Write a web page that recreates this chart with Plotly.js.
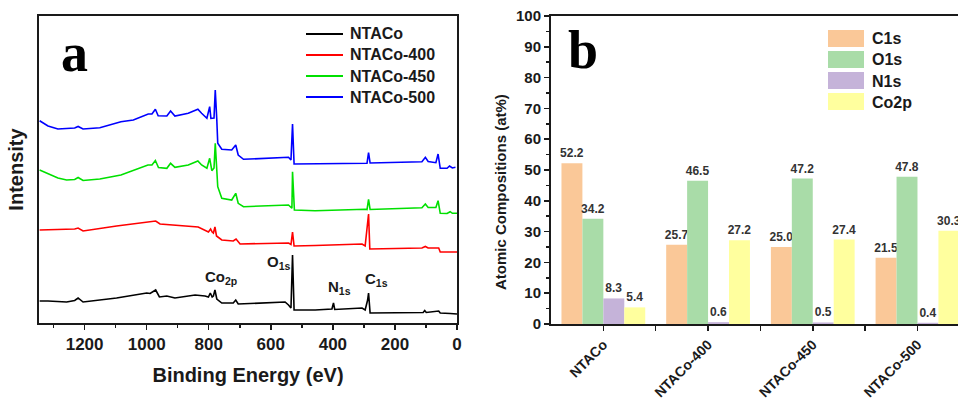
<!DOCTYPE html>
<html>
<head>
<meta charset="utf-8">
<script src="https://cdn.plot.ly/plotly-3.0.1.min.js"></script>
<style>html,body{margin:0;padding:0;background:#fff;}#chart{width:958px;height:402px;}</style>
</head>
<body>
<div id="chart"></div>
<script>
// ---------- Panel a: XPS survey spectra (binding energy in eV, intensity in arbitrary units) ----------
const energyNTACo = [1345,1318,1258,1232,1221,1212,1205,1097,1000,989,971,959,935,909,844,812,801,795,789,785,780,774,758,721,713,705,554,543,535,530,525,457,403,398,394,306,296,288,285,280,109,104,99,59,54,22,0];
const intensityNTACo = [22,22,21,22.5,25,22.5,21,25,30,29.5,33,26,27,25,28,27,26,30,26,27,33,24,20,20,23,19,21,18,15,68,13,13,14,20,13.5,15,13,23,30,10,10.5,12.5,10.5,12,10,9.5,9];

const energyNTACo400 = [1345,1258,1232,1221,1205,1097,1000,971,957,909,834,801,794,789,785,780,775,758,721,712,699,543,535,530,525,457,306,296,285,281,113,102,93,59,54,0];
const intensityNTACo400 = [93,94,94,95,92,97,101,102,99,98,96,91,94,91,90,96,87,83,82,84,79,80,78.5,91,77,77.5,79,77,109,74,75,76.5,75,75,71,71];

const energyNTACo450 = [1345,1318,1286,1258,1232,1221,1205,1151,1083,996,983,972,962,935,923,909,866,835,823,806,797,790,783,779,774,771,758,726,713,705,688,543,532,530,524,457,296,290,285,280,113,102,93,68,61,54,32,22,15,0];
const intensityNTACo450 = [153,149,145,143,143.5,145.5,142.5,144,148,158,158,162.5,155.5,154.7,159.7,155.7,158,162,158,154.7,164.7,152.3,155,179.7,151.3,136.3,124.7,123,129.7,119.7,116.3,118,114.7,151.3,113,112.3,113.7,113.5,123.7,113.5,115.3,119,115.5,115.5,122.3,109.7,109.5,111.3,109.7,109.7];

const energyNTACo500 = [1345,1318,1286,1258,1232,1221,1205,1151,1083,1043,995,983,972,963,935,923,909,866,835,823,806,797,793,783,779,774,771,758,726,713,705,688,543,535,530,525,457,296,290,285,280,113,102,93,68,61,54,32,24,15,5];
const intensityNTACo500 = [202.3,197,194,194.5,195,196.5,194,195.3,201.3,203,209,209,213.7,207.3,207,212,207,209.7,213.7,209.7,204.7,216.3,204.7,205,233,203,179.7,173.7,173,178,168,163.7,165.7,163,199,159,159,159.7,159.7,170.3,160,161.3,165.7,161.5,160.3,169,154.7,154.7,157,155,155.7];

const spectraNames = ['NTACo','NTACo-400','NTACo-450','NTACo-500'];
const spectraColors = ['#000000','#ff0000','#00e000','#0000ff'];

// peak labels (text, binding energy, intensity)
const peakLabels = ['Co<sub>2p</sub>','O<sub>1s</sub>','N<sub>1s</sub>','C<sub>1s</sub>'];
const peakLabelEnergy = [760, 575, 380, 258];
const peakLabelIntensity = [46, 61, 36, 44];

// ---------- Panel b: atomic compositions ----------
const categories = ['NTACo','NTACo-400','NTACo-450','NTACo-500'];
const c1s  = [52.2, 25.7, 25.0, 21.5];
const o1s  = [34.2, 46.5, 47.2, 47.8];
const n1s  = [8.3, 0.6, 0.5, 0.4];
const co2p = [5.4, 27.2, 27.4, 30.3];
const elementNames = ['C1s','O1s','N1s','Co2p'];
const elementColors = ['#FAC898','#A9DCA8','#C5B3D9','#FFFF9E'];

// ---------- helpers ----------
const W = 958, H = 402;
const px = x => x / W;
const py = y => 1 - y / H;
const SANS = '"Liberation Sans", Arial, sans-serif';
const SERIF = '"Liberation Serif", "Times New Roman", serif';
const INK = '#1a1a1a';

const energies = [energyNTACo, energyNTACo400, energyNTACo450, energyNTACo500];
const intensities = [intensityNTACo, intensityNTACo400, intensityNTACo450, intensityNTACo500];

const traces = [];
spectraNames.forEach((name, i) => {
  traces.push({
    type: 'scatter', mode: 'lines', name: name,
    x: energies[i], y: intensities[i],
    xaxis: 'x', yaxis: 'y',
    line: {color: spectraColors[i], width: 1.6},
    showlegend: false, hoverinfo: 'skip'
  });
});

const barSeries = [c1s, o1s, n1s, co2p];
const catIndex = categories.map((_, i) => i);
barSeries.forEach((vals, i) => {
  traces.push({
    type: 'bar', name: elementNames[i],
    x: catIndex, y: vals,
    xaxis: 'x2', yaxis: 'y2',
    marker: {color: elementColors[i], line: {width: 0}},
    texttemplate: '%{y:.1f}', textposition: 'outside',
    textfont: {family: SANS, size: 12, weight: 'bold', color: '#333'},
    constraintext: 'none', cliponaxis: false,
    showlegend: false, hoverinfo: 'skip'
  });
});

const annotations = [];
const shapes = [];

// legend of panel a (line keys + names)
spectraNames.forEach((n, i) => {
  const yy = 34 + 21 * i;
  shapes.push({type: 'line', xref: 'paper', yref: 'paper',
    x0: px(306), x1: px(343), y0: py(yy), y1: py(yy),
    line: {color: spectraColors[i], width: 2}});
  annotations.push({text: n, x: px(348), y: py(yy), xref: 'paper', yref: 'paper',
    showarrow: false, xanchor: 'left', yanchor: 'middle',
    font: {family: SANS, size: 16, weight: 'bold', color: INK}});
});

peakLabels.forEach((t, i) => {
  annotations.push({
    text: t, x: peakLabelEnergy[i], y: peakLabelIntensity[i], xref: 'x', yref: 'y',
    showarrow: false, xanchor: 'center', yanchor: 'middle',
    font: {family: SANS, size: 15, weight: 'bold', color: INK}
  });
});
annotations.push({text: 'a', x: px(59), y: py(53), xref: 'paper', yref: 'paper', showarrow: false,
  xanchor: 'left', yanchor: 'middle', font: {family: SERIF, size: 54, weight: 'bold', color: '#000'}});
annotations.push({text: 'b', x: px(566), y: py(50), xref: 'paper', yref: 'paper', showarrow: false,
  xanchor: 'left', yanchor: 'middle', font: {family: SERIF, size: 54, weight: 'bold', color: '#000'}});
annotations.push({text: 'Atomic Compositions (at%)', x: px(500), y: py(192), xref: 'paper', yref: 'paper',
  showarrow: false, textangle: -90, xanchor: 'center', yanchor: 'middle',
  font: {family: SANS, size: 15, weight: 'bold', color: INK}});

// legend of panel b (colour boxes + names)
elementNames.forEach((n, i) => {
  shapes.push({type: 'rect', xref: 'paper', yref: 'paper',
    x0: px(828), x1: px(864), y0: py(30 + 21 * i), y1: py(47 + 21 * i),
    fillcolor: elementColors[i], line: {width: 0}});
  annotations.push({text: n, x: px(870), y: py(39 + 21 * i), xref: 'paper', yref: 'paper',
    showarrow: false, xanchor: 'left', yanchor: 'middle',
    font: {family: SANS, size: 16, weight: 'bold', color: INK}});
});

const layout = {
  width: W, height: H,
  margin: {l: 0, r: 0, t: 0, b: 0},
  paper_bgcolor: '#fff', plot_bgcolor: '#fff',
  font: {family: SANS, color: INK},
  showlegend: false,
  barmode: 'group', bargap: 0.2, bargroupgap: 0,
  xaxis: {
    domain: [px(39), px(457)], anchor: 'y', range: [1347, 0],
    showline: true, mirror: true, linewidth: 2, linecolor: INK,
    ticks: 'outside', ticklen: 5, tickwidth: 1.5, tickcolor: INK,
    tick0: 0, dtick: 200,
    minor: {dtick: 100, ticks: 'outside', ticklen: 3, tickwidth: 1.5, tickcolor: INK, showgrid: false},
    tickfont: {family: SANS, size: 17, weight: 'bold', color: INK},
    showgrid: false, zeroline: false,
    title: {text: 'Binding Energy (eV)', font: {family: SANS, size: 20, weight: 'bold', color: INK}, standoff: 15}
  },
  yaxis: {
    domain: [py(323), py(16)], anchor: 'x', range: [0, 307],
    showline: true, mirror: true, linewidth: 2, linecolor: INK,
    ticks: '', showticklabels: false, showgrid: false, zeroline: false,
    title: {text: 'Intensity', font: {family: SANS, size: 20, weight: 'bold', color: INK}, standoff: 8}
  },
  xaxis2: {
    domain: [px(551), 1], anchor: 'y2', range: [-0.5, 3.387],
    tickmode: 'array', tickvals: catIndex, ticktext: categories, tickangle: -45,
    ticks: 'outside', ticklen: 5, tickwidth: 1.5, tickcolor: INK,
    minor: {tickmode: 'array', tickvals: categories.slice(1).map((_, i) => i + 0.5), ticks: 'outside', ticklen: 5, tickwidth: 1.5, tickcolor: INK, showgrid: false},
    showline: true, mirror: true, linewidth: 2, linecolor: INK,
    tickfont: {family: SANS, size: 14, weight: 'bold', color: INK},
    showgrid: false, zeroline: false
  },
  yaxis2: {
    domain: [py(324), py(16)], anchor: 'x2', range: [0, 100],
    tick0: 0, dtick: 10,
    ticks: 'outside', ticklen: 5, tickwidth: 1.5, tickcolor: INK,
    minor: {dtick: 5, ticks: 'outside', ticklen: 3, tickwidth: 1.5, tickcolor: INK, showgrid: false},
    showline: true, linewidth: 2, linecolor: INK,
    tickfont: {family: SANS, size: 15, weight: 'bold', color: INK},
    showgrid: false, zeroline: false
  },
  annotations: annotations,
  shapes: shapes
};

Plotly.newPlot('chart', traces, layout, {staticPlot: true, displayModeBar: false});
</script>
</body>
</html>
